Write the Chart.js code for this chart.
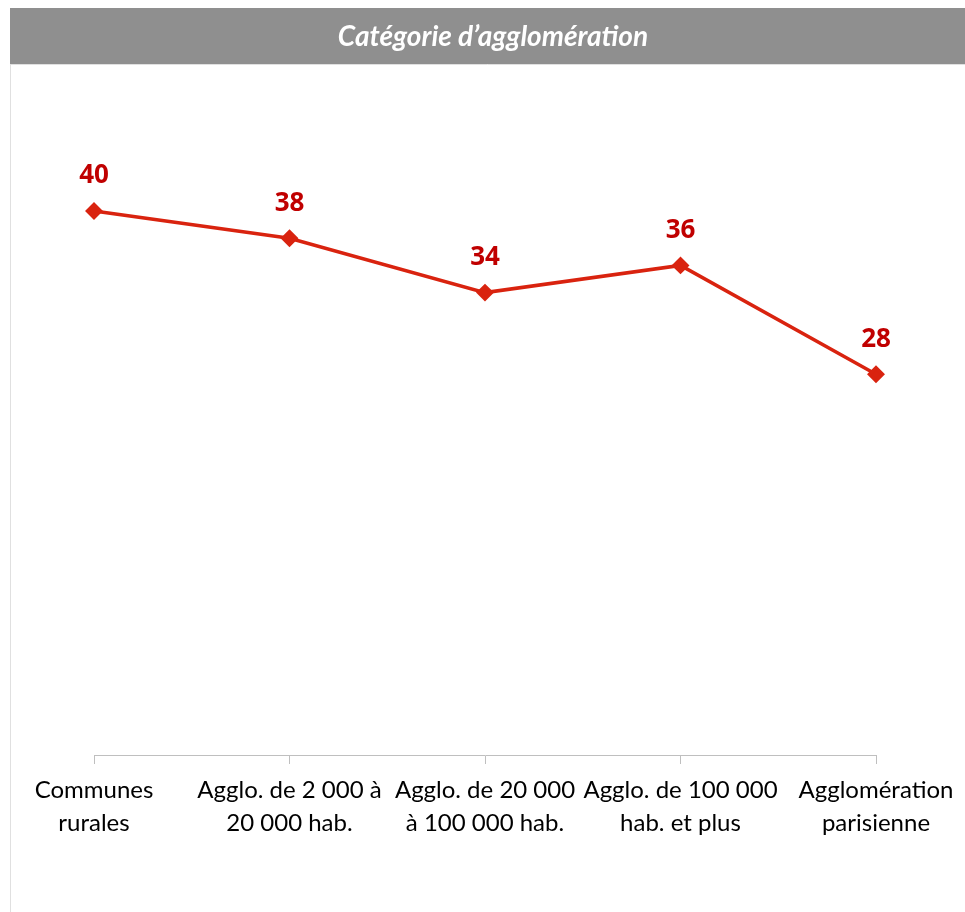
<!DOCTYPE html>
<html>
<head>
<meta charset="utf-8">
<script src="https://cdn.jsdelivr.net/npm/chart.js@4/dist/chart.umd.min.js"></script>
<style>
  html, body { margin: 0; padding: 0; background: #fff; }
  #chart { display: block; }
</style>
</head>
<body>
<canvas id="chart" width="965" height="912"></canvas>
<script>
// data
const titleText = "Catégorie d\u2019agglomération";
const categories = [
  ["Communes", "rurales"],
  ["Agglo. de 2 000 à", "20 000 hab."],
  ["Agglo. de 20 000", "à 100 000 hab."],
  ["Agglo. de 100 000", "hab. et plus"],
  ["Agglomération", "parisienne"]
];
const values = [40, 38, 34, 36, 28];

const frame = {
  id: "frame",
  beforeDraw(chart) {
    const c = chart.ctx;
    c.save();
    c.fillStyle = "#ffffff";
    c.fillRect(0, 0, chart.width, chart.height);
    c.fillStyle = "#8f8f8f";
    c.fillRect(10, 8, chart.width - 10, 56);
    c.strokeStyle = "#e0e0e0";
    c.lineWidth = 1;
    c.beginPath();
    c.moveTo(10.5, 64);
    c.lineTo(10.5, chart.height);
    c.moveTo(10, 64.5);
    c.lineTo(chart.width, 64.5);
    c.stroke();
    c.fillStyle = "#ffffff";
    c.font = "italic bold 28px Lato";
    c.textAlign = "center";
    c.textBaseline = "middle";
    c.fillText(titleText, 493, 37);
    c.restore();
  }
};

const pointLabels = {
  id: "pointLabels",
  afterDatasetsDraw(chart) {
    const c = chart.ctx;
    const meta = chart.getDatasetMeta(0);
    c.save();
    c.fillStyle = "#c00000";
    c.font = "bold 26px 'Open Sans'";
    c.textAlign = "center";
    c.textBaseline = "middle";
    meta.data.forEach(function(p, i) {
      c.fillText(values[i], p.x, p.y - 35);
    });
    c.restore();
  }
};

new Chart(document.getElementById("chart"), {
  type: "line",
  data: {
    labels: categories,
    datasets: [{
      data: values,
      borderColor: "#d9230f",
      backgroundColor: "#d9230f",
      borderWidth: 3.5,
      pointStyle: "rectRot",
      pointRadius: 6.5,
      pointHoverRadius: 6.5,
      tension: 0
    }]
  },
  options: {
    responsive: false,
    animation: false,
    devicePixelRatio: 1,
    layout: { padding: { left: 94, right: 89, top: 75, bottom: 0 } },
    plugins: { legend: { display: false }, tooltip: { enabled: false } },
    scales: {
      x: {
        offset: false,
        grid: { drawOnChartArea: false, drawTicks: true, tickLength: 9, color: "#bfbfbf" },
        border: { display: true, color: "#bfbfbf", width: 1 },
        ticks: {
          color: "#000000",
          font: { family: "Lato", size: 24, lineHeight: 1.375 },
          padding: 10,
          maxRotation: 0,
          autoSkip: false
        },
        afterFit(s) { s.height = 157; }
      },
      y: { display: false, min: 0, max: 50 }
    }
  },
  plugins: [frame, pointLabels]
});
</script>
</body>
</html>
